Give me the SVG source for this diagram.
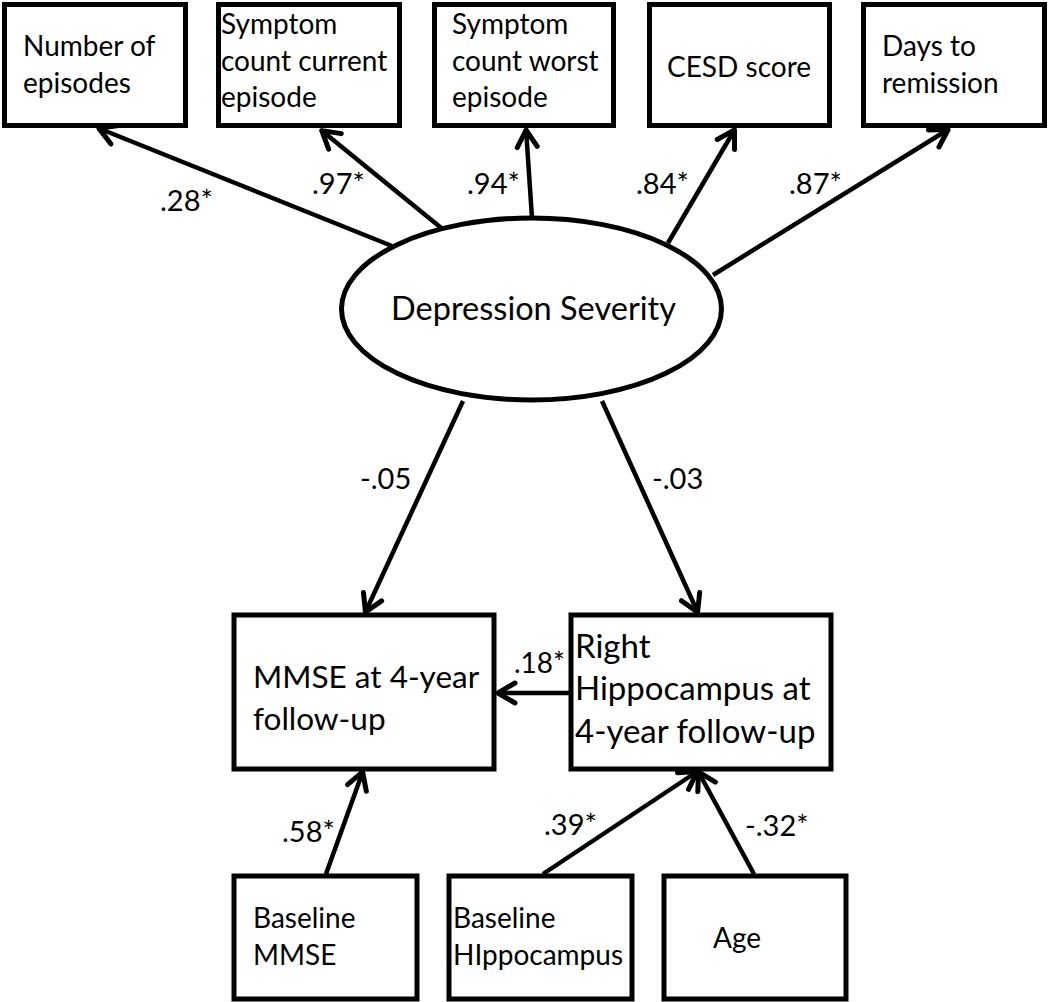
<svg xmlns="http://www.w3.org/2000/svg" width="1050" height="1002" viewBox="0 0 1050 1002">
<defs>
<style>
.box{fill:#fff;stroke:#000;stroke-width:5}
.t{font-family:"Lato","Liberation Sans",sans-serif;font-size:28px;fill:#000}
.tm{font-family:"Lato","Liberation Sans",sans-serif;font-size:33px;fill:#000}
.lbl{font-family:"Lato","Liberation Sans",sans-serif;font-size:29px;fill:#000}
.c{stroke:#000;stroke-width:4.5;fill:none;marker-end:url(#arr)}
</style>
<marker id="arr" markerUnits="userSpaceOnUse" markerWidth="40" markerHeight="40" refX="0" refY="0" orient="auto" overflow="visible">
<path d="M-18,-10 L-1,0 L-18,10" fill="none" stroke="#000" stroke-width="5" stroke-linejoin="round" stroke-linecap="round"/>
</marker>
</defs>
<rect width="1050" height="1002" fill="#fff"/>
<g id="connectors">
<line class="c" x1="392" y1="246" x2="98" y2="128"/>
<line class="c" x1="445" y1="231" x2="321" y2="130"/>
<line class="c" x1="532" y1="218" x2="526" y2="129"/>
<line class="c" x1="668" y1="243" x2="735" y2="129"/>
<line class="c" x1="713" y1="275" x2="949" y2="129"/>
<line class="c" x1="463" y1="401" x2="365" y2="613"/>
<line class="c" x1="602" y1="401" x2="698" y2="613"/>
<line class="c" x1="569" y1="693" x2="497" y2="693"/>
<line class="c" x1="326" y1="874" x2="363" y2="771"/>
<line class="c" x1="543" y1="874" x2="698" y2="771"/>
<line class="c" x1="754" y1="874" x2="698" y2="771"/>
<text class="lbl" x="160" y="211">.28*</text>
<text class="lbl" x="312" y="194">.97*</text>
<text class="lbl" x="467" y="194">.94*</text>
<text class="lbl" x="636" y="194">.84*</text>
<text class="lbl" x="789" y="194">.87*</text>
<text class="lbl" x="360" y="489">-.05</text>
<text class="lbl" x="652" y="489">-.03</text>
<text class="lbl" x="514" y="673" style="font-size:28px">.18*</text>
<text class="lbl" x="282" y="842">.58*</text>
<text class="lbl" x="544" y="835">.39*</text>
<text class="lbl" x="745" y="836">-.32*</text>
</g>
<g id="n-episodes">
<rect class="box" x="4.5" y="4.5" width="181" height="121"/>
<text class="t" x="23" y="56">Number of</text>
<text class="t" x="23" y="93">episodes</text>
</g>
<g id="n-current">
<rect class="box" x="218.5" y="4.5" width="181" height="121"/>
<text class="t" x="221" y="34">Symptom</text>
<text class="t" x="221" y="71">count current</text>
<text class="t" x="221" y="107">episode</text>
</g>
<g id="n-worst">
<rect class="box" x="434.5" y="4.5" width="179" height="121"/>
<text class="t" x="452" y="34">Symptom</text>
<text class="t" x="452" y="71">count worst</text>
<text class="t" x="452" y="107">episode</text>
</g>
<g id="n-cesd">
<rect class="box" x="649.5" y="4.5" width="180" height="121"/>
<text class="t" x="667" y="77">CESD score</text>
</g>
<g id="n-days">
<rect class="box" x="863.5" y="4.5" width="181" height="121"/>
<text class="t" x="882" y="56">Days to</text>
<text class="t" x="882" y="93">remission</text>
</g>
<g id="n-depression">
<ellipse cx="531.5" cy="309" rx="190" ry="91" fill="#fff" stroke="#000" stroke-width="5"/>
<text class="tm" x="533.5" y="320" text-anchor="middle" style="font-size:32.5px">Depression Severity</text>
</g>
<g id="n-mmse">
<rect class="box" x="234" y="615" width="260" height="154"/>
<text class="tm" x="253" y="688" style="font-size:31.5px">MMSE at 4-year</text>
<text class="tm" x="253" y="730" style="font-size:31.5px">follow-up</text>
</g>
<g id="n-hippo">
<rect class="box" x="571" y="615" width="260" height="154"/>
<text class="tm" x="575" y="658">Right</text>
<text class="tm" x="575" y="700">Hippocampus at</text>
<text class="tm" x="575" y="743">4-year follow-up</text>
</g>
<g id="n-basemmse">
<rect class="box" x="234" y="876" width="183" height="123"/>
<text class="t" x="253" y="928">Baseline</text>
<text class="t" x="253" y="965">MMSE</text>
</g>
<g id="n-basehippo">
<rect class="box" x="449" y="876" width="183" height="123"/>
<text class="t" x="453" y="928">Baseline</text>
<text class="t" x="453" y="965">HIppocampus</text>
</g>
<g id="n-age">
<rect class="box" x="664" y="876" width="182" height="123"/>
<text class="t" x="713" y="948">Age</text>
</g>
</svg>
